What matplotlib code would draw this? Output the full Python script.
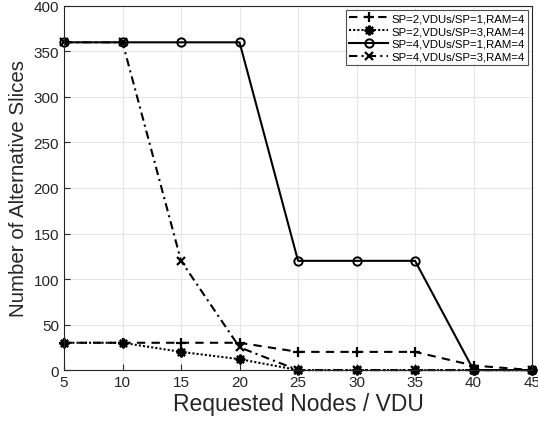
import numpy as np
import matplotlib.pyplot as plt

plt.rcParams['font.family'] = ['Liberation Sans', 'DejaVu Sans']

nodes = [5, 10, 15, 20, 25, 30, 35, 40, 45]
sp2_vdu1 = [30, 30, 30, 30, 20, 20, 20, 5, 0]
sp2_vdu3 = [30, 30, 20, 12, 0, 0, 0, 0, 0]
sp4_vdu1 = [360, 360, 360, 360, 120, 120, 120, 0, 0]
sp4_vdu3 = [360, 360, 120, 25, 0, 0, 0, 0, 0]
labels = ['SP=2,VDUs/SP=1,RAM=4', 'SP=2,VDUs/SP=3,RAM=4',
          'SP=4,VDUs/SP=1,RAM=4', 'SP=4,VDUs/SP=3,RAM=4']

fig = plt.figure(figsize=(5.38, 4.31), dpi=100)
ax = fig.add_axes([0.119, 0.139, 0.870, 0.845])

lw = 1.5
ax.plot(nodes, sp2_vdu1, color='black', linestyle=(0, (4, 3)), marker='+', markersize=7,
        markeredgewidth=1.6, linewidth=lw, label=labels[0], clip_on=False)
ax.plot(nodes, sp2_vdu3, color='black', linestyle=(0, (1, 1)), marker=(8, 2, 0), markersize=7,
        markeredgewidth=1.6, linewidth=lw, label=labels[1], clip_on=False)
ax.plot(nodes, sp4_vdu1, color='black', linestyle='-', marker='o', markersize=6,
        markerfacecolor='none', markeredgewidth=1.4, linewidth=lw, label=labels[2], clip_on=False)
ax.plot(nodes, sp4_vdu3, color='black', linestyle=(0, (4, 2, 1, 2)), marker='x', markersize=6,
        markeredgewidth=1.6, linewidth=lw, label=labels[3], clip_on=False)

ax.set_xlim(5, 45)
ax.set_ylim(0, 400)
ax.set_xticks(np.arange(5, 46, 5))
ax.set_yticks(np.arange(0, 401, 50))
ax.grid(True, color='#e6e6e6', linewidth=0.8)
ax.set_axisbelow(True)
ax.tick_params(direction='in', labelsize=11, colors='#262626', length=4)
for s in ax.spines.values():
    s.set_color('#262626')
    s.set_linewidth(0.8)

ax.set_xlabel('Requested Nodes / VDU', fontsize=16.5, color='#262626', labelpad=2)
ax.set_ylabel('Number of Alternative Slices', fontsize=14.8, color='#262626', labelpad=4)

leg = ax.legend(loc='upper right', fontsize=8.2, frameon=True, fancybox=False,
                edgecolor='#262626', handlelength=3.4, borderpad=0.3, labelspacing=0.25,
                handletextpad=0.3, borderaxespad=0.35)
leg.get_frame().set_linewidth(0.8)

fig.savefig('out.png', dpi=100)
